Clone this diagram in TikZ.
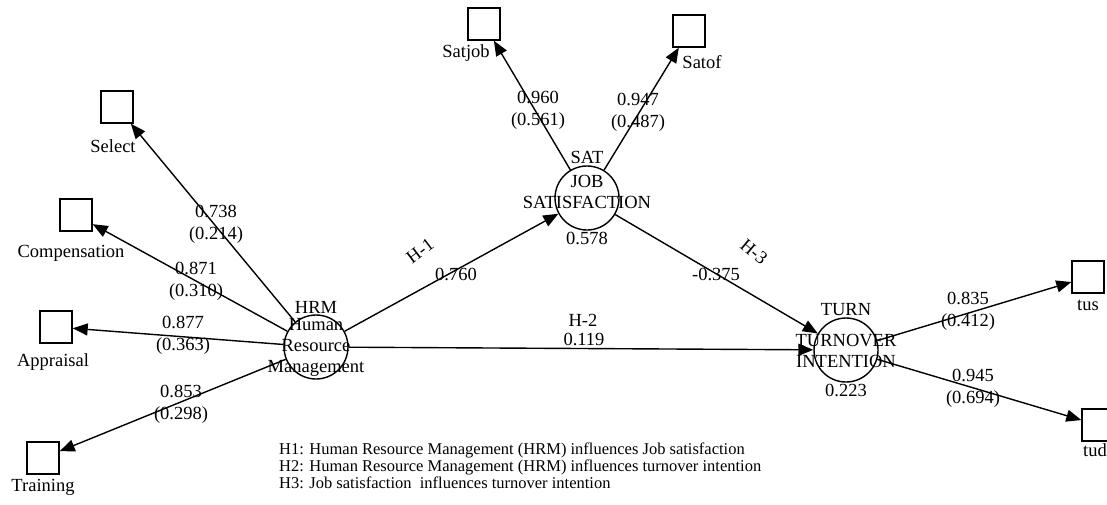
\documentclass[tikz,border=0pt]{standalone}
\usepackage{fontspec}
\setmainfont{Liberation Serif}
\usetikzlibrary{arrows.meta,positioning}

\begin{document}
\begin{tikzpicture}[x=1pt,y=-1pt,
    every node/.style={font=\fontsize{18.5}{21}\selectfont, inner sep=1pt},
    latent/.style={circle, draw, line width=1.4pt, minimum size=64pt, inner sep=0pt},
    manifest/.style={rectangle, draw, line width=1.4pt, minimum size=32pt, inner sep=0pt},
    load/.style={line width=1.4pt, -{Triangle[length=15pt,width=12pt]}},
    coef/.style={align=center, font=\fontsize{18.5}{22}\selectfont},
    ctext/.style={align=center, font=\fontsize{18.5}{21}\selectfont}]
    \useasboundingbox (0,0) rectangle (1107,504);

    % latent variables
    \node[latent, label={above:HRM}] (hrm) at (316,347) {};
    \node[ctext] (hrmtxt) at (hrm) {Human\\Resource\\Management};
    \node[latent, label={above:SAT}, label={below:0.578}] (sat) at (587,198) {};
    \node[ctext] (sattxt) at (587,192) {JOB\\SATISFACTION};
    \node[latent, label={above:TURN}, label={below:0.223}] (turn) at (846,350) {};
    \node[ctext] (turntxt) at (846,351) {TURNOVER\\INTENTION};

    % indicators
    \node[manifest] (select) at (117,107) {};
    \node (selectl) at (113,146) {Select};
    \node[manifest] (comp) at (76,215) {};
    \node (compl) at (71,253) {Compensation};
    \node[manifest] (appr) at (56,327) {};
    \node (apprl) at (53,362) {Appraisal};
    \node[manifest] (train) at (43,458) {};
    \node (trainl) at (43,487) {Training};
    \node[manifest] (satjob) at (484,24) {};
    \node (satjobl) at (466,53) {Satjob};
    \node[manifest] (satof) at (689,31) {};
    \node (satofl) at (702,62) {Satof};
    \node[manifest] (tus) at (1088,277) {};
    \node (tusl) at (1088,305) {tus};
    \node[manifest] (tud) at (1098,425) {};
    \node (tudl) at (1095,450) {tud};

    % paths
    \draw[load] (hrm) -- (select);
    \draw[load] (hrm) -- (comp);
    \draw[load] (hrm) -- (appr);
    \draw[load] (hrm) -- (train);
    \draw[load] (sat) -- (satjob);
    \draw[load] (sat) -- (satof);
    \draw[load] (turn) -- (tus);
    \draw[load] (turn) -- (tud);
    \draw[load] (hrm) -- (sat);
    \draw[load] (hrm) -- (turn);
    \draw[load] (sat) -- (turn);

    % coefficients
    \node[coef] (c1) at (216,224) {0.738\\(0.214)};
    \node[coef] (c2) at (196,281) {0.871\\(0.310)};
    \node[coef] (c3) at (183,335) {0.877\\(0.363)};
    \node[coef] (c4) at (181,404) {0.853\\(0.298)};
    \node[coef] (c5) at (538,110) {0.960\\(0.561)};
    \node[coef] (c6) at (638,112) {0.947\\(0.487)};
    \node[coef] (c7) at (968,311) {0.835\\(0.412)};
    \node[coef] (c8) at (973,388) {0.945\\(0.694)};
    \node[rotate=37] (h1) at (420,251) {H-1};
    \node (b1) at (456,274) {0.760};
    \node (h2) at (583,320) {H-2};
    \node (b2) at (584,339) {0.119};
    \node[rotate=-40] (h3) at (754,252) {H-3};
    \node (b3) at (716,274) {-0.375};

    % hypotheses
    \node[anchor=west, align=left, font=\fontsize{16.5}{17}\selectfont] (legend) at (278,466)
        {H1: Human Resource Management (HRM) influences Job satisfaction\\
         H2: Human Resource Management (HRM) influences turnover intention\\
         H3: Job satisfaction~ influences turnover intention};
\end{tikzpicture}
\end{document}
